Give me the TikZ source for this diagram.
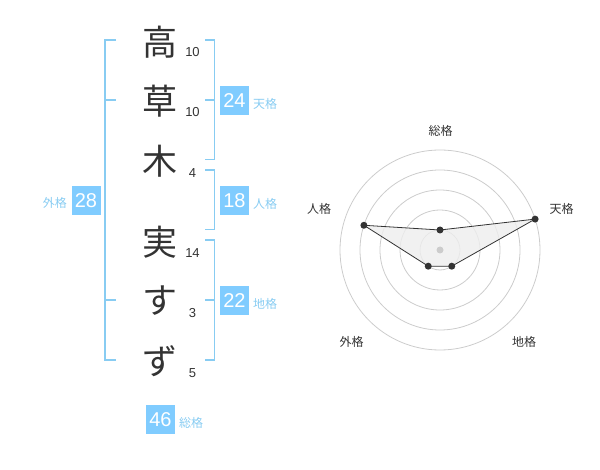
\documentclass[tikz,border=0pt]{standalone}
\usepackage{fontspec}
\setmainfont{Liberation Sans}
\newfontfamily\jp{Noto Sans CJK JP}
\definecolor{boxblue}{HTML}{80CCFF}
\definecolor{lblblue}{HTML}{88CCF2}
\definecolor{ink}{HTML}{333333}
\definecolor{ring}{HTML}{CCCCCC}
\definecolor{polyfill}{HTML}{EEEEEE}
\begin{document}
\begin{tikzpicture}[x=1pt,y=-1pt,
  bigchar/.style={font=\jp\fontsize{35}{35}\selectfont,text=ink,inner sep=0pt},
  stroke/.style={font=\fontsize{13}{13}\selectfont,text=ink,inner sep=0pt},
  numbox/.style={fill=boxblue,text=white,minimum width=29pt,minimum height=29pt,inner sep=0pt,font=\fontsize{20}{20}\selectfont},
  kaku/.style={font=\jp\fontsize{12}{12}\selectfont,text=lblblue,inner sep=0pt},
  brk/.style={draw=lblblue,line width=1.6pt},
  rlabel/.style={font=\jp\fontsize{12}{12}\selectfont,text=ink,inner sep=0pt},
  dot/.style={circle,fill=ink,inner sep=0pt,minimum size=7pt}]
\useasboundingbox (0,0) rectangle (600,470);
% characters
\node[bigchar] (c1) at (160,42) {高};
\node[bigchar] (c2) at (160,101) {草};
\node[bigchar] (c3) at (160,161) {木};
\node[bigchar] (c4) at (160,242) {実};
\node[bigchar] (c5) at (160,301) {す};
\node[bigchar] (c6) at (160,361) {ず};
% stroke counts
\node[stroke] (s1) at (192.5,52.5) {10};
\node[stroke] (s2) at (192.5,112.5) {10};
\node[stroke] (s3) at (192.5,173) {4};
\node[stroke] (s4) at (192.5,253) {14};
\node[stroke] (s5) at (192.5,313) {3};
\node[stroke] (s6) at (192.5,373) {5};
% brackets
\draw[brk] (116,40) -- (105,40) -- (105,360) -- (116,360);
\draw[brk] (105,100) -- (116,100);
\draw[brk] (105,300) -- (116,300);
\draw[brk] (205,40) -- (214.5,40) -- (214.5,159.5) -- (205,159.5);
\draw[brk] (205,100) -- (214.5,100);
\draw[brk] (205,170) -- (214.5,170) -- (214.5,229.5) -- (205,229.5);
\draw[brk] (205,240) -- (214.5,240) -- (214.5,360) -- (205,360);
\draw[brk] (205,300) -- (214.5,300);
% boxes
\node[numbox] (b28) at (86,200.5) {28};
\node[kaku,anchor=east] (k28) at (67,203) {外格};
\node[numbox] (b24) at (234.5,100.5) {24};
\node[kaku,anchor=west] (k24) at (253,104) {天格};
\node[numbox] (b18) at (234.5,200.5) {18};
\node[kaku,anchor=west] (k18) at (253,204) {人格};
\node[numbox] (b22) at (234.5,300.5) {22};
\node[kaku,anchor=west] (k22) at (253,304) {地格};
\node[numbox] (b46) at (160.5,419.5) {46};
\node[kaku,anchor=west] (k46) at (179,423) {総格};
% radar
\coordinate (ctr) at (440,250);
\foreach \r in {20,40,60,80,100} \draw[ring,line width=0.8pt] (ctr) circle[radius=\r];
\path (ctr) ++(0,-20) coordinate (pS);
\path (ctr) ++(95.1,-30.9) coordinate (pTen);
\path (ctr) ++(11.76,16.18) coordinate (pChi);
\path (ctr) ++(-11.76,16.18) coordinate (pGai);
\path (ctr) ++(-76.08,-24.72) coordinate (pJin);
\fill[polyfill,fill opacity=0.8] (pS) -- (pTen) -- (pChi) -- (pGai) -- (pJin) -- cycle;
\fill[ring] (ctr) circle[radius=3.5];
\draw[ink,line width=0.8pt] (pS) -- (pTen) -- (pChi) -- (pGai) -- (pJin) -- cycle;
\foreach \p in {pS,pTen,pChi,pGai,pJin} \node[dot] at (\p) {};
\node[rlabel] (lS) at (440.5,130.5) {総格};
\node[rlabel] (lTen) at (561.5,208.5) {天格};
\node[rlabel] (lJin) at (319,208.5) {人格};
\node[rlabel] (lGai) at (351.5,342) {外格};
\node[rlabel] (lChi) at (524,342) {地格};
\end{tikzpicture}
\end{document}
